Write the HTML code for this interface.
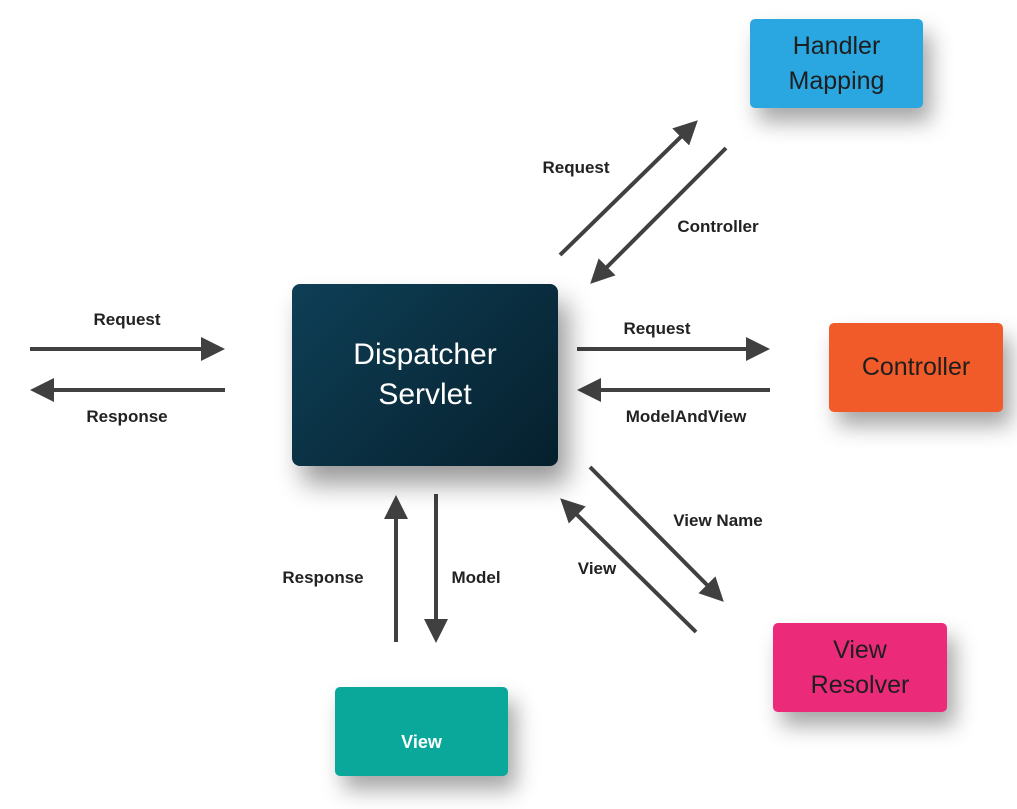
<!DOCTYPE html>
<html><head><style>
body{margin:0;width:1017px;height:809px;background:#fff;position:relative;overflow:hidden;font-family:"Liberation Sans",sans-serif}
.b{position:absolute;border-radius:5px;display:flex;align-items:center;justify-content:center;text-align:center;color:#1e1e1e;font-size:25px;line-height:35px;box-shadow:8px 14px 22px rgba(0,0,0,.35)}
.l{position:absolute;font-size:17px;font-weight:bold;color:#222;transform:translateX(-50%);white-space:nowrap}
</style></head><body>
<svg width="1017" height="809" style="position:absolute;left:0;top:0">
<defs><marker id="a" markerWidth="6" markerHeight="6" refX="5" refY="3" orient="auto" markerUnits="strokeWidth"><path d="M0,0L6,3L0,6z" fill="#404040"/></marker></defs>
<g stroke="#404040" stroke-width="4" marker-end="url(#a)">
<line x1="30" y1="349" x2="221" y2="349"/>
<line x1="225" y1="390" x2="34" y2="390"/>
<line x1="577" y1="349" x2="766" y2="349"/>
<line x1="770" y1="390" x2="581" y2="390"/>
<line x1="560" y1="255" x2="695" y2="123"/>
<line x1="726" y1="148" x2="593" y2="281"/>
<line x1="590" y1="467" x2="721" y2="599"/>
<line x1="696" y1="632" x2="563" y2="501"/>
<line x1="396" y1="642" x2="396" y2="499"/>
<line x1="436" y1="494" x2="436" y2="639"/>
</g></svg>
<div class="b" style="left:292px;top:284px;width:266px;height:182px;background:linear-gradient(135deg,#0e3f56,#06202d);color:#fff;font-size:30px;line-height:40px;font-weight:500;border-radius:8px;box-shadow:10px 18px 26px rgba(0,0,0,.4)">Dispatcher<br>Servlet</div>
<div class="b" style="left:750px;top:19px;width:173px;height:89px;background:#2aa7e0">Handler<br>Mapping</div>
<div class="b" style="left:829px;top:323px;width:174px;height:89px;background:#f15a29">Controller</div>
<div class="b" style="left:773px;top:623px;width:174px;height:89px;background:#ec2a7a">View<br>Resolver</div>
<div class="b" style="left:335px;top:687px;width:173px;height:89px;background:#0aa89a;color:#fff;font-size:18px;font-weight:bold;padding-top:22px;box-sizing:border-box">View</div>
<div class="l" style="left:127px;top:310px">Request</div>
<div class="l" style="left:127px;top:407px">Response</div>
<div class="l" style="left:657px;top:319px">Request</div>
<div class="l" style="left:686px;top:407px">ModelAndView</div>
<div class="l" style="left:576px;top:158px">Request</div>
<div class="l" style="left:718px;top:217px">Controller</div>
<div class="l" style="left:718px;top:511px">View Name</div>
<div class="l" style="left:597px;top:559px">View</div>
<div class="l" style="left:323px;top:568px">Response</div>
<div class="l" style="left:476px;top:568px">Model</div>
</body></html>
